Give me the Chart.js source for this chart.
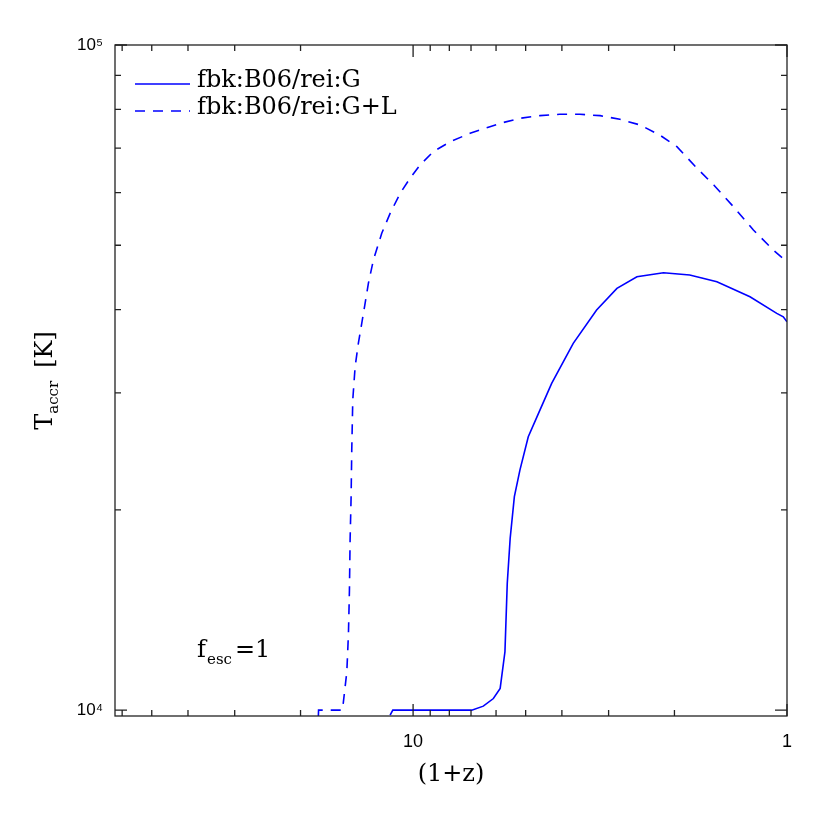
<!DOCTYPE html>
<html lang="en">
  <head>
    <meta charset="UTF-8" />
    <title>T_accr versus (1+z)</title>
    <script src="https://cdn.jsdelivr.net/npm/chart.js"></script>
    <style>
      body {
        margin: 0;
        background: #fff;
      }
      #wrap {
        width: 830px;
        height: 830px;
      }
    </style>
  </head>
  <body>
    <div id="wrap"><canvas id="taccrChart" width="830" height="830"></canvas></div>

    <script>
      // values: (1+z) and T_accr [K]
      const zG = [11.52, 11.33, 6.97, 6.49, 6.1, 5.85, 5.68, 5.6, 5.5, 5.36, 5.18, 4.92, 4.62, 4.26, 3.73, 3.23, 2.85, 2.52, 2.14, 1.82, 1.54, 1.256, 1.065, 1.023, 1.0];
      const tG = [9830, 10000, 10000, 10140, 10410, 10780, 12240, 15500, 18130, 20940, 22960, 25770, 27940, 31000, 35600, 39950, 43070, 44840, 45460, 45100, 44060, 41830, 39490, 39030, 38360];

      const zGL = [17.92, 17.9, 15.45, 15.36, 15.04, 14.89, 14.8, 14.74, 14.65, 14.59, 14.5, 14.29, 14.01, 13.72, 13.44, 13.17, 12.77, 12.13, 11.52, 10.83, 10.19, 9.58, 8.83, 7.96, 7.04, 6.23, 5.85, 5.18, 4.58, 4.05, 3.58, 3.16, 2.8, 2.47, 2.19, 1.97, 1.74, 1.57, 1.39, 1.23, 1.088, 1.0];
      const tGL = [9800, 10000, 10000, 10290, 11420, 13040, 15150, 18020, 20880, 24600, 29260, 32840, 35600, 38150, 40890, 43820, 47510, 52110, 55840, 59840, 63040, 66010, 69120, 71550, 73660, 75360, 76250, 77600, 78300, 78680, 78680, 78300, 77330, 75810, 73230, 70330, 65260, 61600, 57120, 52700, 49170, 47190];

      const seriesLabels = ["fbk:B06/rei:G", "fbk:B06/rei:G+L"];

      const xTicks = [1, 10];
      const xTickLabels = ["1", "10"];
      const xMinor = [2, 3, 4, 5, 6, 7, 8, 9, 20, 30, 40, 50, 60];
      const yTicks = [10000, 100000];
      const yTickLabels = ["10⁴", "10⁵"];
      const yMinor = [20000, 30000, 40000, 50000, 60000, 70000, 80000, 90000];

      const serif = "'DejaVu Serif', serif";
      const blue = "#0000ff";
      const ink = "#222";

      const toPoints = (xs, ys) => xs.map((v, i) => ({ x: v, y: ys[i] }));

      // box round the plot, inward ticks on all four sides, legend, y title and f_esc note
      const frameTicks = {
        id: "frameTicks",
        afterDatasetsDraw(chart) {
          const { ctx, chartArea: a, scales } = chart;
          const x = scales.x, y = scales.y;
          ctx.save();
          ctx.strokeStyle = ink;
          ctx.lineWidth = 1.3;
          ctx.strokeRect(a.left, a.top, a.right - a.left, a.bottom - a.top);
          ctx.beginPath();
          const xt = (v, len) => {
            const px = x.getPixelForValue(v);
            ctx.moveTo(px, a.bottom); ctx.lineTo(px, a.bottom - len);
            ctx.moveTo(px, a.top); ctx.lineTo(px, a.top + len);
          };
          const yt = (v, len) => {
            const py = y.getPixelForValue(v);
            ctx.moveTo(a.left, py); ctx.lineTo(a.left + len, py);
            ctx.moveTo(a.right, py); ctx.lineTo(a.right - len, py);
          };
          xTicks.forEach((v) => xt(v, 12));
          xMinor.forEach((v) => xt(v, 6));
          yTicks.forEach((v) => yt(v, 12));
          yMinor.forEach((v) => yt(v, 6));
          ctx.stroke();
          ctx.restore();

          // legend, styled from the datasets
          ctx.save();
          chart.data.datasets.forEach((ds, i) => {
            const ly = a.top + 39 + i * 27;
            ctx.strokeStyle = ds.borderColor;
            ctx.lineWidth = ds.borderWidth;
            ctx.setLineDash(ds.borderDash || []);
            ctx.beginPath();
            ctx.moveTo(a.left + 20, ly);
            ctx.lineTo(a.left + 75, ly);
            ctx.stroke();
            ctx.setLineDash([]);
            ctx.fillStyle = "#000";
            ctx.font = "24px " + serif;
            ctx.textBaseline = "alphabetic";
            ctx.fillText(ds.label, a.left + 82, ly + 3);
          });
          ctx.restore();

          // y title with subscript
          ctx.save();
          ctx.fillStyle = "#000";
          ctx.textBaseline = "alphabetic";
          ctx.translate(48, (a.top + a.bottom) / 2);
          ctx.rotate(-Math.PI / 2);
          const big = "24px " + serif, small = "15px " + serif;
          ctx.font = big;
          const wT = ctx.measureText("T").width;
          const wK = ctx.measureText("[K]").width;
          ctx.font = small;
          const wSub = ctx.measureText("accr").width;
          const gap = 13;
          const cx = -(wT + wSub + gap + wK) / 2;
          ctx.font = big;
          ctx.fillText("T", cx, 4);
          ctx.font = small;
          ctx.fillText("accr", cx + wT, 10);
          ctx.font = big;
          ctx.fillText("[K]", cx + wT + wSub + gap, 4);
          ctx.restore();

          // f_esc = 1 note
          ctx.save();
          ctx.fillStyle = "#000";
          ctx.textBaseline = "alphabetic";
          ctx.font = "24px " + serif;
          ctx.fillText("f", a.left + 82, 657);
          ctx.font = "15px " + serif;
          ctx.fillText("esc", a.left + 92, 664);
          ctx.font = "24px " + serif;
          ctx.fillText("=1", a.left + 120, 657);
          ctx.restore();
        },
      };

      const ctx = document.getElementById("taccrChart").getContext("2d");
      const taccrChart = new Chart(ctx, {
        type: "line",
        data: {
          datasets: [
            {
              label: seriesLabels[0],
              data: toPoints(zG, tG),
              borderColor: blue,
              backgroundColor: blue,
              borderWidth: 1.6,
              pointRadius: 0,
              fill: false,
              tension: 0,
            },
            {
              label: seriesLabels[1],
              data: toPoints(zGL, tGL),
              borderColor: blue,
              backgroundColor: blue,
              borderWidth: 1.6,
              borderDash: [10, 8],
              pointRadius: 0,
              fill: false,
              tension: 0,
            },
          ],
        },
        options: {
          responsive: false,
          animation: false,
          layout: { padding: { top: 45, right: 43, left: 0, bottom: 0 } },
          plugins: {
            tooltip: { enabled: false },
            legend: { display: false },
          },
          scales: {
            x: {
              type: "logarithmic",
              reverse: true,
              min: 1,
              max: 62.7,
              afterFit: (s) => { s.height = 114; },
              afterBuildTicks: (s) => { s.ticks = xTicks.map((v) => ({ value: v })); },
              grid: { display: false, drawTicks: false },
              border: { display: false },
              ticks: {
                autoSkip: false,
                maxRotation: 0,
                padding: 15,
                color: "#000",
                font: { family: "'Liberation Sans', sans-serif", size: 18 },
                callback: (v) => xTickLabels[xTicks.indexOf(v)] ?? "",
              },
              title: {
                display: true,
                text: "(1+z)",
                color: "#000",
                font: { family: serif, size: 24 },
                padding: { top: 0, bottom: 41 },
              },
            },
            y: {
              type: "logarithmic",
              min: 9800,
              max: 100000,
              afterFit: (s) => { s.width = 115; },
              afterBuildTicks: (s) => { s.ticks = yTicks.map((v) => ({ value: v })); },
              grid: { display: false, drawTicks: false },
              border: { display: false },
              ticks: {
                autoSkip: false,
                padding: 12,
                color: "#000",
                font: { family: "'Liberation Sans', sans-serif", size: 17 },
                callback: (v) => yTickLabels[yTicks.indexOf(v)] ?? "",
              },
            },
          },
        },
        plugins: [frameTicks],
      });
    </script>
  </body>
</html>
